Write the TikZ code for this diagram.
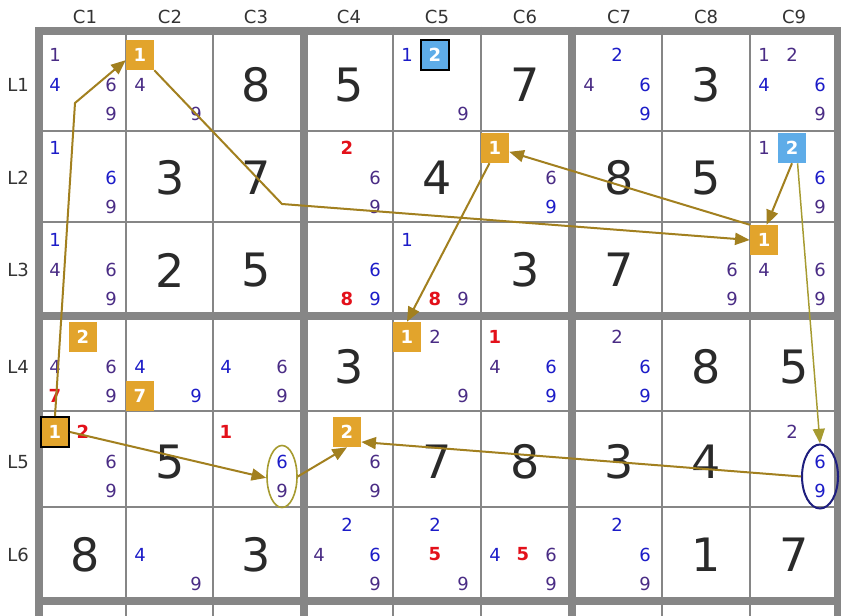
\documentclass[tikz,border=0pt]{standalone}
\usepackage{fontspec}
\setmainfont{DejaVu Sans}
\usetikzlibrary{arrows.meta,shapes.geometric}

\definecolor{gridgray}{HTML}{868686}
\definecolor{givencol}{HTML}{2A2A2A}
\definecolor{labelcol}{HTML}{333333}
\definecolor{candblue}{HTML}{1C1CC8}
\definecolor{candpurple}{HTML}{4A2C85}
\definecolor{candred}{HTML}{E3101A}
\definecolor{boxorange}{HTML}{E2A42C}
\definecolor{boxblue}{HTML}{5EACE8}
\definecolor{linkgold}{HTML}{A2801F}
\definecolor{linkolive}{HTML}{A69B30}
\definecolor{ringnavy}{HTML}{1E1E7E}

% candidates of one cell: row, column, digit/style list
\newcommand\cands[3]{%
  \foreach \dg/\sty in {#3}{
    \pgfmathsetmacro\dx{mod(\dg-1,3)*28-30}
    \pgfmathsetmacro\dy{int((\dg-1)/3)*29.5-30}
    \node[cand,\sty] at ([shift={(\dx,\dy)}]c#1#2) {\dg};
  }}

\begin{document}
\begin{tikzpicture}[x=0.75pt,y=-0.75pt,
  given/.style={font=\fontsize{34.5}{36}\selectfont,text=givencol,inner sep=0pt},
  cand/.style={font=\fontsize{13.5}{15}\selectfont,inner sep=0pt},
  pu/.style={text=candpurple},
  bl/.style={text=candblue},
  rd/.style={text=candred,font=\fontsize{13.5}{15}\selectfont\bfseries},
  lbl/.style={font=\fontsize{13.5}{15}\selectfont,text=labelcol},
  hlbox/.style={fill=boxorange,text=white,font=\fontsize{13.5}{15}\selectfont\bfseries,
    minimum width=21pt,minimum height=22.5pt,inner sep=0pt},
  hlblue/.style={hlbox,fill=boxblue},
  blackrim/.style={draw=black,line width=1.5pt},
  ring/.style={ellipse,inner sep=0pt},
  link/.style={draw=linkgold,line width=1.5pt,-{Triangle[length=11pt,width=9pt]}}]
\path[use as bounding box] (0,0) rectangle (841,616);
\clip (0,0) rectangle (841,616);
\fill[white] (0,0) rectangle (841,616);

% cell centres and labels
\foreach \c/\x in {1/85,2/170,3/256,4/349,5/437,6/525,7/619,8/706,9/794}{
  \node[lbl] (col\c) at (\x,17) {C\c};
  \foreach \r/\y in {1/85,2/178,3/270,4/367,5/462,6/555}
    \coordinate (c\r\c) at (\x,\y);
}
\foreach \r/\y in {1/85,2/178,3/270,4/367,5/462,6/555}
  \node[lbl] (row\r) at (18,\y) {L\r};

% grid
\foreach \x in {126,213,393,481,662,750}
  \draw[gridgray,line width=2pt] (\x,27) -- (\x,620);
\foreach \y in {131,222,411,507}
  \draw[gridgray,line width=2pt] (35,\y) -- (845,\y);
\foreach \x in {39,304,572,838}
  \draw[gridgray,line width=6pt] (\x,27) -- (\x,620);
\foreach \y in {31,316,601}
  \draw[gridgray,line width=6pt] (35,\y) -- (845,\y);

% given digits
\foreach \r/\c/\g in {1/3/8,1/4/5,1/6/7,1/8/3,2/2/3,2/3/7,2/5/4,2/7/8,2/8/5,
    3/2/2,3/3/5,3/6/3,3/7/7,4/4/3,4/8/8,4/9/5,5/2/5,5/5/7,5/6/8,5/7/3,5/8/4,
    6/1/8,6/3/3,6/8/1,6/9/7}
  \node[given] at (c\r\c) {\g};

% candidates
\cands{1}{1}{1/pu,4/bl,6/pu,9/pu}
\cands{1}{2}{4/pu,9/pu}
\cands{1}{5}{1/bl,9/pu}
\cands{1}{7}{2/bl,4/pu,6/bl,9/bl}
\cands{1}{9}{1/pu,2/pu,4/bl,6/bl,9/pu}
\cands{2}{1}{1/bl,6/bl,9/pu}
\cands{2}{4}{2/rd,6/pu,9/pu}
\cands{2}{6}{6/pu,9/bl}
\cands{2}{9}{1/pu,6/bl,9/pu}
\cands{3}{1}{1/bl,4/pu,6/pu,9/pu}
\cands{3}{4}{6/bl,8/rd,9/bl}
\cands{3}{5}{1/bl,8/rd,9/pu}
\cands{3}{8}{6/pu,9/pu}
\cands{3}{9}{4/pu,6/pu,9/pu}
\cands{4}{1}{4/pu,6/pu,7/rd,9/pu}
\cands{4}{2}{4/bl,9/bl}
\cands{4}{3}{4/bl,6/pu,9/pu}
\cands{4}{5}{2/pu,9/pu}
\cands{4}{6}{1/rd,4/pu,6/bl,9/bl}
\cands{4}{7}{2/pu,6/bl,9/bl}
\cands{5}{1}{2/rd,6/pu,9/pu}
\cands{5}{3}{1/rd,6/bl,9/pu}
\cands{5}{4}{6/pu,9/pu}
\cands{5}{9}{2/pu,6/bl,9/bl}
\cands{6}{2}{4/bl,9/pu}
\cands{6}{4}{2/bl,4/pu,6/bl,9/pu}
\cands{6}{5}{2/bl,5/rd,9/pu}
\cands{6}{6}{4/bl,5/rd,6/pu,9/pu}
\cands{6}{7}{2/bl,6/bl,9/pu}

% highlighted candidates
\node[hlbox] (r1c2) at ([shift={(-30,-30)}]c12) {1};
\node[hlblue,blackrim,minimum height=23pt] (r1c5) at ([shift={(-2,-30)}]c15) {2};
\node[hlbox] (r2c6) at ([shift={(-30,-30)}]c26) {1};
\node[hlblue] (r2c9) at ([shift={(-2,-30)}]c29) {2};
\node[hlbox] (r3c9) at ([shift={(-30,-30)}]c39) {1};
\node[hlbox] (r4c1) at ([shift={(-2,-30)}]c41) {2};
\node[hlbox] (r4c2) at ([shift={(-30,29)}]c42) {7};
\node[hlbox] (r4c5) at ([shift={(-30,-30)}]c45) {1};
\node[hlbox,blackrim] (r5c1) at ([shift={(-30,-30)}]c51) {1};
\node[hlbox] (r5c4) at ([shift={(-2,-30)}]c54) {2};

\node[ring,draw=linkolive,line width=1.2pt,minimum width=22.5pt,minimum height=46.5pt]
  (e5c3) at ([shift={(26,14.5)}]c53) {};
\node[ring,draw=ringnavy,line width=1.5pt,minimum width=27pt,minimum height=48pt]
  (e5c9) at ([shift={(26,14.5)}]c59) {};

% chain
\coordinate (k1) at (75,103);
\coordinate (k2) at (282,204);
\draw[link] (r5c1.north) -- (k1) -- (r1c2.200);
\draw[link] (r1c2.south east) -- (k2) -- (r3c9.west);
\draw[link] (r3c9.north west) -- (r2c6.-15);
\draw[link] (r2c6.250) -- (r4c5.north);
\draw[link] (r2c9.south) -- (r3c9.80);
\draw[link,draw=linkolive,line width=1.1pt] (r2c9.290) -- (e5c9.north);
\draw[link] (e5c9.west) -- (r5c4.-35);
\draw[link] (r5c1.east) -- (e5c3.185);
\draw[link] (e5c3.east) -- (r5c4.south);
\end{tikzpicture}
\end{document}
